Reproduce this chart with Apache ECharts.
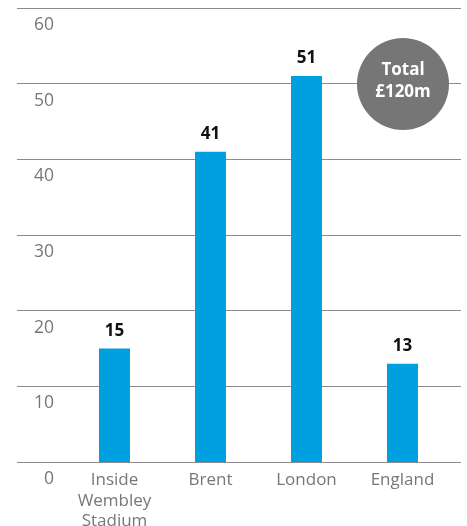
<!DOCTYPE html>
<html>
<head>
<meta charset="utf-8">
<script src="https://cdn.jsdelivr.net/npm/echarts@6/dist/echarts.min.js"></script>
<style>
  html, body { margin: 0; padding: 0; background: #fff; }
  #chart { width: 467px; height: 526px; }
</style>
</head>
<body>
<div id="chart"></div>
<script>
// Spending by area (£m)
const categories = ['Inside\nWembley\nStadium', 'Brent', 'London', 'England'];
const values = [15, 41, 51, 13];
const yTicks = [0, 10, 20, 30, 40, 50, 60];

const total = values.reduce((a, b) => a + b, 0);
const FONT = '"Open Sans", "Noto Sans", sans-serif';

const chart = echarts.init(document.getElementById('chart'));

chart.setOption({
  animation: false,
  grid: [
    // full-width grid carrying the horizontal rules and value labels
    { left: 17, right: 6, top: 8, bottom: 64, outerBoundsMode: 'none', containLabel: false },
    // narrower grid holding the bars
    { left: 66.5, width: 384, top: 8, bottom: 64, outerBoundsMode: 'none', containLabel: false }
  ],
  xAxis: [
    { gridIndex: 0, type: 'value', show: false, min: 0, max: 1 },
    {
      gridIndex: 1,
      type: 'category',
      data: categories,
      axisLine: { show: false },
      axisTick: { show: false },
      axisLabel: {
        color: '#777',
        fontFamily: FONT,
        fontSize: 17,
        lineHeight: 20.5,
        margin: 8,
        verticalAlign: 'top'
      }
    }
  ],
  yAxis: [
    {
      gridIndex: 0,
      type: 'value',
      min: yTicks[0],
      max: yTicks[yTicks.length - 1],
      interval: 10,
      axisLine: { show: false },
      axisTick: { show: false },
      splitLine: { lineStyle: { color: '#8c8c8c', width: 1.2 } },
      axisLabel: {
        inside: true,
        margin: 37,
        align: 'right',
        verticalAlign: 'top',
        padding: [8, 0, 0, 0],
        color: '#777',
        fontFamily: FONT,
        fontSize: 17.5
      }
    },
    {
      gridIndex: 1,
      type: 'value',
      min: yTicks[0],
      max: yTicks[yTicks.length - 1],
      interval: 10,
      show: false
    }
  ],
  series: [
    {
      type: 'bar',
      xAxisIndex: 1,
      yAxisIndex: 1,
      data: values,
      barWidth: 31,
      itemStyle: { color: '#009fe0' },
      label: {
        show: true,
        position: 'top',
        distance: 9,
        color: '#111',
        fontFamily: FONT,
        fontWeight: 'bold',
        fontSize: 17
      }
    }
  ],
  graphic: [
    {
      type: 'circle',
      shape: { cx: 403, cy: 84, r: 46 },
      style: { fill: '#767676' },
      z: 10
    },
    {
      type: 'text',
      x: 403,
      y: 81,
      z: 11,
      style: {
        text: 'Total\n£' + total + 'm',
        fill: '#fff',
        font: 'bold 17px ' + FONT,
        lineHeight: 22,
        align: 'center',
        verticalAlign: 'middle'
      }
    }
  ]
});
</script>
</body>
</html>
